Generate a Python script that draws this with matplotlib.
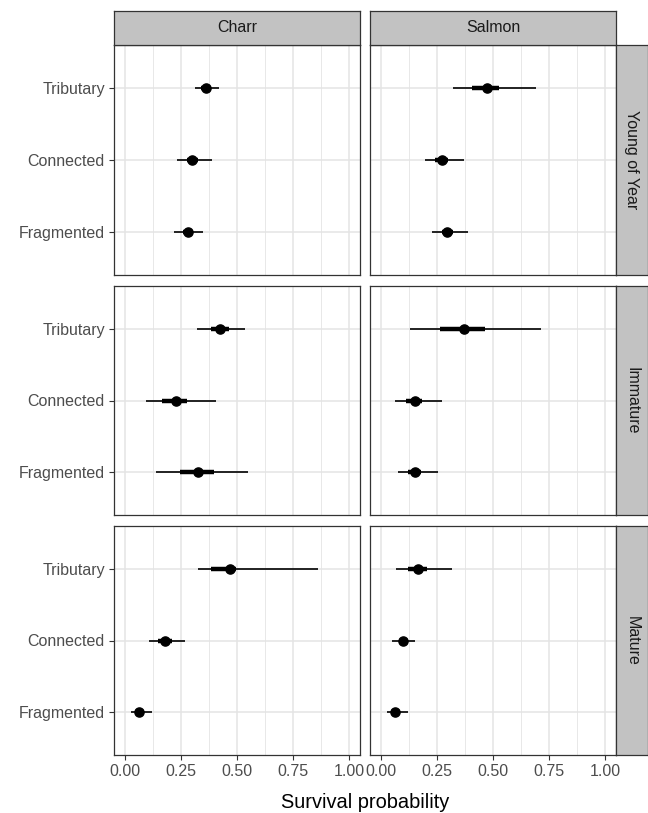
import numpy as np
import matplotlib
matplotlib.use("Agg")
import matplotlib.pyplot as plt

plt.rcParams["font.family"] = ["Liberation Sans", "DejaVu Sans"]

species = ["Charr", "Salmon"]
stages = ["Young of Year", "Immature", "Mature"]
habitats = ["Tributary", "Connected", "Fragmented"]

# [stage][species][habitat]
est = [[[0.361, 0.300, 0.280], [0.474, 0.273, 0.295]],
       [[0.424, 0.225, 0.324], [0.371, 0.149, 0.152]],
       [[0.467, 0.179, 0.064], [0.164, 0.098, 0.064]]]
lo95 = [[[0.310, 0.230, 0.220], [0.323, 0.194, 0.226]],
        [[0.320, 0.091, 0.137], [0.131, 0.064, 0.074]],
        [[0.324, 0.106, 0.025], [0.065, 0.049, 0.024]]]
hi95 = [[[0.420, 0.390, 0.350], [0.693, 0.372, 0.390]],
        [[0.537, 0.408, 0.548], [0.716, 0.270, 0.252]],
        [[0.863, 0.269, 0.118], [0.316, 0.153, 0.118]]]
lo50 = [[[0.340, 0.276, 0.260], [0.408, 0.240, 0.270]],
        [[0.385, 0.164, 0.245], [0.261, 0.109, 0.118]],
        [[0.385, 0.148, 0.045], [0.118, 0.080, 0.045]]]
hi50 = [[[0.380, 0.324, 0.300], [0.526, 0.300, 0.320]],
        [[0.463, 0.276, 0.397], [0.462, 0.183, 0.176]],
        [[0.497, 0.208, 0.085], [0.206, 0.120, 0.085]]]

xticks = [0, 0.25, 0.5, 0.75, 1.0]
xticklabels = ["0.00", "0.25", "0.50", "0.75", "1.00"]

W, H = 648, 813
fig = plt.figure(figsize=(W / 100, H / 100), dpi=100)

def px_axes(x0, y0, x1, y1):
    # pixel box (top-left origin) -> figure axes
    return fig.add_axes([x0 / W, 1 - y1 / H, (x1 - x0) / W, (y1 - y0) / H])

col_x = [(114, 360), (370, 616)]
row_y = [(45, 275), (286, 515), (526, 755)]
strip_top = 11
strip_right = 648

border = "#333333"
grid_c = "#E4E4E4"
ypos = np.array([3, 2, 1])

for i, stage in enumerate(stages):
    for j, sp in enumerate(species):
        x0, x1 = col_x[j]
        y0, y1 = row_y[i]
        ax = px_axes(x0, y0, x1, y1)
        ax.set_xlim(-0.05, 1.05)
        ax.set_ylim(0.4, 3.6)
        ax.set_xticks(xticks)
        ax.set_xticks(np.arange(0.125, 1.0, 0.25), minor=True)
        ax.set_yticks(ypos)
        ax.grid(True, which="major", color=grid_c, lw=1.1)
        ax.grid(True, which="minor", axis="x", color=grid_c, lw=0.6)
        ax.set_axisbelow(True)
        for s in ax.spines.values():
            s.set_color(border)
            s.set_linewidth(0.9)
        ax.tick_params(which="minor", length=0)
        ax.tick_params(which="major", length=3.5, width=0.8, color=border,
                       labelsize=11.5, labelcolor="#4D4D4D", pad=3)
        if j == 0:
            ax.set_yticklabels(habitats)
        else:
            ax.tick_params(axis="y", length=0, labelleft=False)
        if i == len(stages) - 1:
            ax.set_xticklabels(xticklabels)
        else:
            ax.tick_params(axis="x", length=0, labelbottom=False)

        ax.hlines(ypos, lo95[i][j], hi95[i][j], color="black", lw=1.2, zorder=3)
        ax.hlines(ypos, lo50[i][j], hi50[i][j], color="black", lw=3.2, zorder=3)
        ax.plot(est[i][j], ypos, "o", color="black", ms=6.6, zorder=4)

        if i == 0:
            sx = px_axes(x0, strip_top, x1, y0)
            sx.set_facecolor("#C2C2C2")
            sx.set_xticks([])
            sx.set_yticks([])
            for s in sx.spines.values():
                s.set_color(border)
                s.set_linewidth(0.9)
            sx.text(0.5, 0.5, sp, ha="center", va="center", fontsize=11.5,
                    color="#1A1A1A", transform=sx.transAxes)
        if j == len(species) - 1:
            sx = px_axes(x1, y0, strip_right, y1)
            sx.set_facecolor("#C2C2C2")
            sx.set_xticks([])
            sx.set_yticks([])
            for s in sx.spines.values():
                s.set_color(border)
                s.set_linewidth(0.9)
            sx.text(0.5, 0.5, stage, ha="center", va="center", fontsize=11.5,
                    color="#1A1A1A", rotation=270, transform=sx.transAxes)

fig.text((114 + 616) / 2 / W, 1 - 802 / H, "Survival probability",
         ha="center", va="center", fontsize=14.4, color="black")

fig.savefig("out.png", dpi=100)
